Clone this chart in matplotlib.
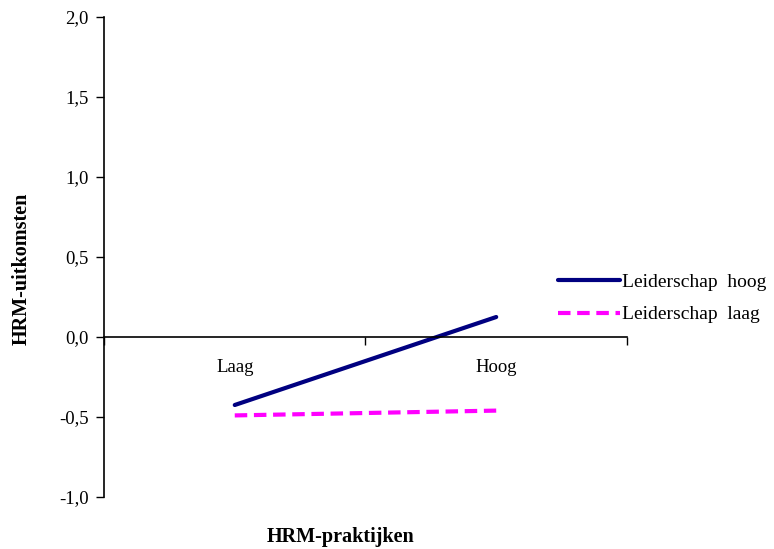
import matplotlib.pyplot as plt

plt.rcParams['font.family'] = ['Liberation Serif', 'DejaVu Serif']

categories = ["Laag", "Hoog"]
leiderschap_hoog = [-0.425, 0.125]
leiderschap_laag = [-0.49, -0.46]
y_ticks = [-1.0, -0.5, 0.0, 0.5, 1.0, 1.5, 2.0]

fig = plt.figure(figsize=(7.74, 5.49), dpi=100)
ax = fig.add_axes([0.1344, 0.0947, 0.6756, 0.8743])

x = list(range(len(categories)))
ax.plot(x, leiderschap_hoog, color="#000080", linewidth=3,
        solid_capstyle="round", label="Leiderschap  hoog")
ax.plot(x, leiderschap_laag, color="#ff00ff", linewidth=3,
        linestyle=(0, (3, 1.6)), label="Leiderschap  laag")

ax.set_xlim(-0.5, 1.5)
ax.set_ylim(-1.0, 2.0)

# y axis
ax.set_yticks(y_ticks)
ax.set_yticklabels([f"{v:.1f}".replace(".", ",") for v in y_ticks], fontsize=13.5)
ax.tick_params(axis="y", direction="out", length=6, width=1, pad=5)

# x axis sits on zero, ticks between categories
ax.spines["bottom"].set_position(("data", 0))
ax.spines["top"].set_visible(False)
ax.spines["right"].set_visible(False)
ax.set_xticks([-0.5, 0.5, 1.5])
ax.set_xticklabels([])
ax.tick_params(axis="x", direction="out", length=6, width=1)
for xi, c in zip(x, categories):
    ax.text(xi, -0.14, c, ha="center", va="top", fontsize=13.5)

ax.spines["left"].set_linewidth(1.2)
ax.spines["bottom"].set_linewidth(1.2)

ax.legend(loc="center left", bbox_to_anchor=(0.868, 0.4135), frameon=False,
          fontsize=14, handlelength=3.2, handletextpad=0.1,
          labelspacing=0.75, borderaxespad=0, borderpad=0)

fig.text(0.028, 0.51, "HRM-uitkomsten", rotation=90, ha="center", va="center",
         fontsize=14.5, fontweight="bold")
fig.text(0.44, 0.022, "HRM-praktijken", ha="center", va="center",
         fontsize=14.5, fontweight="bold")

fig.savefig("out.png", dpi=100)
